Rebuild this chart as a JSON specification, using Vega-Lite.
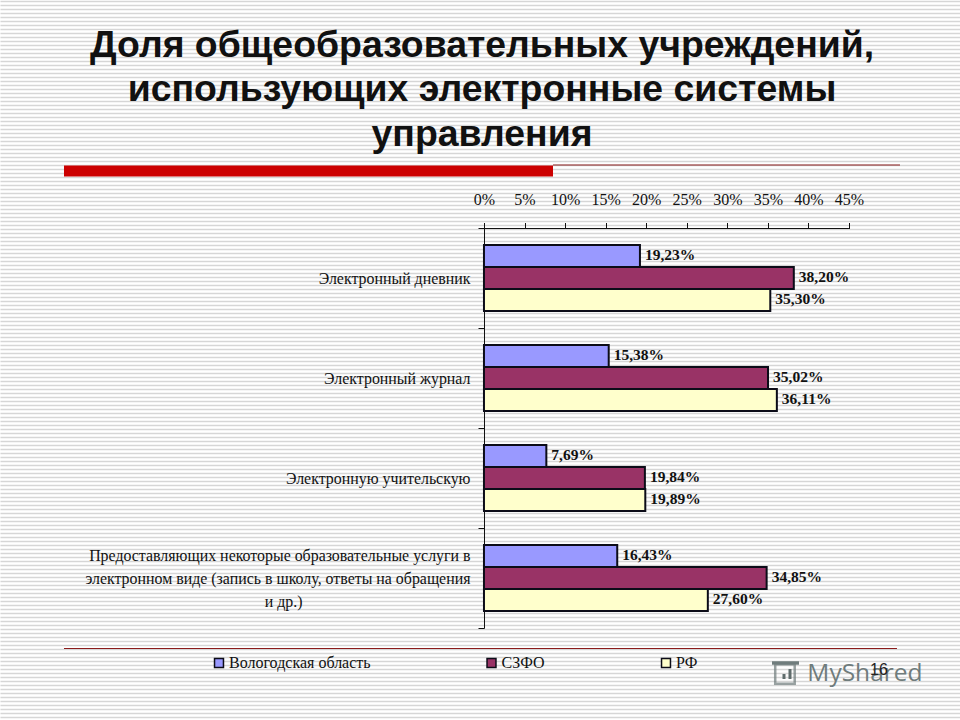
{"$schema":"https://vega.github.io/schema/vega-lite/v6.json","width":960,"height":720,"padding":0,"autosize":"none","background":"#ffffff","title":{"text":["Доля общеобразовательных учреждений,","использующих электронные системы","управления"],"font":"Liberation Sans","fontSize":37.4,"fontWeight":"bold","color":"#111111","lineHeight":44.5,"anchor":"middle","frame":"group","baseline":"top","offset":-161,"dx":2},"config":{"view":{"stroke":null}},"resolve":{"scale":{"y":"independent"},"axis":{"y":"independent"}},"layer":[{"data":{"values":[{"note":"decor"}]},"layer":[{"mark":{"type":"rule","color":"#cc0000","strokeWidth":11,"clip":false},"encoding":{"x":{"datum":-51.78,"type":"quantitative","scale":{"domain":[-59.67,58.69],"range":[0,960],"nice":false,"zero":false},"axis":{"orient":"top","offset":-228.5,"domain":false,"values":[0,5,10,15,20,25,30,35,40,45],"labelExpr":"datum.value + '%'","labelFont":"Liberation Serif","labelFontSize":16,"labelColor":"#111111","labelPadding":15,"tickSize":6,"tickColor":"#111111","grid":false,"title":null}},"x2":{"datum":8.51},"y":{"datum":171,"type":"quantitative","scale":{"domain":[0,720],"range":[0,720],"nice":false},"axis":{"orient":"left","domain":false,"ticks":false,"labels":false,"title":null,"grid":true,"gridColor":"#d6d6d6","gridWidth":1.4,"tickCount":200,"values":[1,5,9,13,17,21,25,29,33,37,41,45,49,53,57,61,65,69,73,77,81,85,89,93,97,101,105,109,113,117,121,125,129,133,137,141,145,149,153,157,161,165,169,173,177,181,185,189,193,197,201,205,209,213,217,221,225,229,233,237,241,245,249,253,257,261,265,269,273,277,281,285,289,293,297,301,305,309,313,317,321,325,329,333,337,341,345,349,353,357,361,365,369,373,377,381,385,389,393,397,401,405,409,413,417,421,425,429,433,437,441,445,449,453,457,461,465,469,473,477,481,485,489,493,497,501,505,509,513,517,521,525,529,533,537,541,545,549,553,557,561,565,569,573,577,581,585,589,593,597,601,605,609,613,617,621,625,629,633,637,641,645,649,653,657,661,665,669,673,677,681,685,689,693,697,701,705,709,713,717]}}}},{"mark":{"type":"rule","color":"#111111","strokeWidth":1},"encoding":{"x":{"datum":0,"type":"quantitative"},"x2":{"datum":45},"y":{"datum":228.5,"type":"quantitative"}}},{"mark":{"type":"rule","color":"#8a1a1a","strokeWidth":1.2,"clip":false},"encoding":{"x":{"datum":8.51,"type":"quantitative"},"x2":{"datum":51.29},"y":{"datum":165,"type":"quantitative"}}},{"mark":{"type":"rule","color":"#8a1a1a","strokeWidth":1.2,"clip":false},"encoding":{"x":{"datum":-51.78,"type":"quantitative"},"x2":{"datum":50.92},"y":{"datum":648.5,"type":"quantitative"}}},{"mark":{"type":"point","shape":"square","filled":false,"stroke":"#6f7c7c","strokeWidth":2.5,"size":380},"encoding":{"x":{"datum":37.11,"type":"quantitative"},"y":{"datum":674,"type":"quantitative"}}},{"mark":{"type":"rule","color":"#6f7c7c","strokeWidth":3.5},"encoding":{"x":{"datum":35.51,"type":"quantitative"},"x2":{"datum":38.84},"y":{"datum":663,"type":"quantitative"}}},{"mark":{"type":"rule","color":"#5f6c6c","strokeWidth":3},"encoding":{"x":{"datum":37.73,"type":"quantitative"},"y":{"datum":669,"type":"quantitative"},"y2":{"datum":679}}},{"mark":{"type":"rule","color":"#5f6c6c","strokeWidth":3},"encoding":{"x":{"datum":36.99,"type":"quantitative"},"y":{"datum":674,"type":"quantitative"},"y2":{"datum":679}}},{"mark":{"type":"text","font":"Open Sans","fontSize":24.5,"color":"#6f7c7c","align":"center","baseline":"middle","clip":false,"text":"MyShared"},"encoding":{"x":{"datum":46.97,"type":"quantitative"},"y":{"datum":674,"type":"quantitative"}}},{"mark":{"type":"text","font":"Liberation Sans","fontSize":16,"color":"#222222","align":"center","baseline":"middle","clip":false,"text":"16"},"encoding":{"x":{"datum":48.7,"type":"quantitative"},"y":{"datum":670,"type":"quantitative"}}}]},{"data":{"values":[{"category":"Электронный дневник","series":"Вологодская область","value":19.23,"label":"19,23%"},{"category":"Электронный дневник","series":"СЗФО","value":38.2,"label":"38,20%"},{"category":"Электронный дневник","series":"РФ","value":35.3,"label":"35,30%"},{"category":"Электронный журнал","series":"Вологодская область","value":15.38,"label":"15,38%"},{"category":"Электронный журнал","series":"СЗФО","value":35.02,"label":"35,02%"},{"category":"Электронный журнал","series":"РФ","value":36.11,"label":"36,11%"},{"category":"Электронную учительскую","series":"Вологодская область","value":7.69,"label":"7,69%"},{"category":"Электронную учительскую","series":"СЗФО","value":19.84,"label":"19,84%"},{"category":"Электронную учительскую","series":"РФ","value":19.89,"label":"19,89%"},{"category":"Предоставляющих некоторые образовательные услуги в электронном виде (запись в школу, ответы на обращения и др.)","series":"Вологодская область","value":16.43,"label":"16,43%"},{"category":"Предоставляющих некоторые образовательные услуги в электронном виде (запись в школу, ответы на обращения и др.)","series":"СЗФО","value":34.85,"label":"34,85%"},{"category":"Предоставляющих некоторые образовательные услуги в электронном виде (запись в школу, ответы на обращения и др.)","series":"РФ","value":27.6,"label":"27,60%"}]},"encoding":{"x":{"field":"value","type":"quantitative"},"y":{"field":"category","type":"nominal","sort":null,"scale":{"range":[228,628],"paddingInner":0,"paddingOuter":0},"axis":{"orient":"left","offset":-484,"title":null,"tickBand":"extent","tickSize":6,"tickColor":"#111111","domainColor":"#111111","labelFont":"Liberation Serif","labelFontSize":15.9,"labelColor":"#111111","labelPadding":8,"labelLimit":0,"labelLineHeight":23,"labelOffset":{"condition":{"test":"datum.index === 1","value":-23},"value":0},"labelExpr":"indexof(datum.label,'Предоставляющих')==0 ? ['Предоставляющих некоторые образовательные услуги в','электронном виде (запись в школу, ответы на обращения','и др.)\u2800\u2800\u2800\u2800\u2800\u2800\u2800\u2800\u2800\u2800\u2800\u2800\u2800\u2800'] : datum.label"}},"yOffset":{"field":"series","type":"nominal","scale":{"domain":["Вологодская область","СЗФО","РФ"],"paddingInner":0,"paddingOuter":0.773}}},"layer":[{"mark":{"type":"bar","stroke":"#0c0c18","strokeWidth":2},"encoding":{"x2":{"datum":0},"color":{"field":"series","type":"nominal","scale":{"domain":["Вологодская область","СЗФО","РФ"],"range":["#9999ff","#993366","#ffffcc"]},"legend":{"orient":"none","legendX":211,"legendY":655,"direction":"horizontal","columns":3,"title":null,"symbolType":"square","symbolSize":80,"symbolStrokeColor":"#0c0c18","symbolStrokeWidth":1.5,"labelFont":"Liberation Serif","labelFontSize":16,"labelColor":"#111111","columnPadding":112.5,"labelOffset":2}}}},{"mark":{"type":"text","font":"Liberation Serif","fontSize":15.5,"fontWeight":"bold","color":"#111111","align":"left","baseline":"middle","dx":5,"dy":-1},"encoding":{"text":{"field":"label","type":"nominal"}}}]}]}
